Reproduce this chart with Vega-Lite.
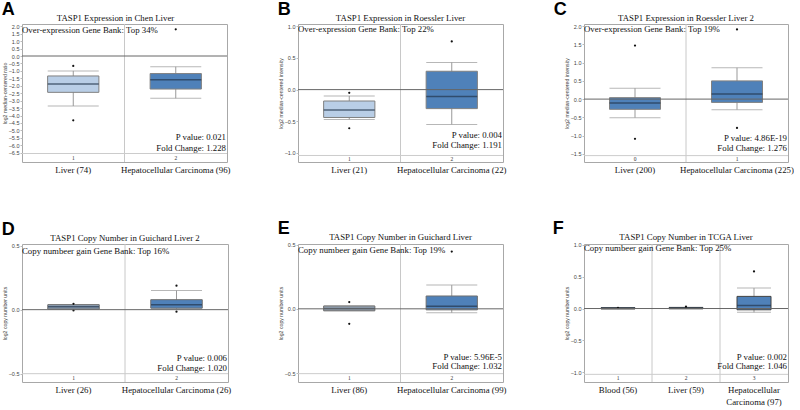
{
"$schema": "https://vega.github.io/schema/vega-lite/v6.json",
"padding": {"left": 1, "top": 1, "right": 0, "bottom": 0},
"resolve": {"scale": {"color": "independent"}},
"datasets": {
"boxes": [
{"panel":"A","pos":1,"num":"1","cat":"Liver (74)","lower":-3.36,"q1":-2.44,"median":-1.88,"q3":-1.34,"upper":-1.0},
{"panel":"A","pos":2,"num":"2","cat":"Hepatocellular Carcinoma (96)","lower":-2.84,"q1":-2.22,"median":-1.59,"q3":-1.18,"upper":-0.72},
{"panel":"B","pos":1,"num":"1","cat":"Liver (21)","lower":-0.47,"q1":-0.44,"median":-0.32,"q3":-0.18,"upper":-0.1},
{"panel":"B","pos":2,"num":"2","cat":"Hepatocellular Carcinoma (22)","lower":-0.55,"q1":-0.3,"median":-0.11,"q3":0.29,"upper":0.43},
{"panel":"C","pos":1,"num":"0","cat":"Liver (200)","lower":-0.51,"q1":-0.28,"median":-0.11,"q3":0.04,"upper":0.3},
{"panel":"C","pos":2,"num":"1","cat":"Hepatocellular Carcinoma (225)","lower":-0.29,"q1":-0.09,"median":0.14,"q3":0.5,"upper":0.86},
{"panel":"D","pos":1,"num":"1","cat":"Liver (26)","lower":0.005,"q1":0.005,"median":0.022,"q3":0.039,"upper":0.039},
{"panel":"D","pos":2,"num":"2","cat":"Hepatocellular Carcinoma (26)","lower":0.006,"q1":0.012,"median":0.039,"q3":0.078,"upper":0.15},
{"panel":"E","pos":1,"num":"1","cat":"Liver (86)","lower":-0.015,"q1":-0.015,"median":0.003,"q3":0.022,"upper":0.022},
{"panel":"E","pos":2,"num":"2","cat":"Hepatocellular Carcinoma (99)","lower":-0.031,"q1":-0.008,"median":0.02,"q3":0.1,"upper":0.185},
{"panel":"F","pos":1,"num":"1","cat":"Blood (56)","lower":-0.01,"q1":-0.004,"median":0.004,"q3":0.012,"upper":0.018},
{"panel":"F","pos":2,"num":"2","cat":"Liver (59)","lower":-0.008,"q1":-0.002,"median":0.006,"q3":0.014,"upper":0.02},
{"panel":"F","pos":3,"num":"3","cat":"Hepatocellular Carcinoma (97)","lower":-0.06,"q1":-0.02,"median":0.047,"q3":0.19,"upper":0.32}
],
"outliers": [
{"panel":"A","cat":"Liver (74)","v":-0.67},
{"panel":"A","cat":"Liver (74)","v":-4.32},
{"panel":"A","cat":"Hepatocellular Carcinoma (96)","v":1.79},
{"panel":"B","cat":"Liver (21)","v":-0.05},
{"panel":"B","cat":"Liver (21)","v":-0.61},
{"panel":"B","cat":"Hepatocellular Carcinoma (22)","v":0.76},
{"panel":"C","cat":"Liver (200)","v":1.47},
{"panel":"C","cat":"Liver (200)","v":-1.09},
{"panel":"C","cat":"Hepatocellular Carcinoma (225)","v":1.91},
{"panel":"C","cat":"Hepatocellular Carcinoma (225)","v":-0.79},
{"panel":"D","cat":"Liver (26)","v":0.046},
{"panel":"D","cat":"Liver (26)","v":-0.006},
{"panel":"D","cat":"Hepatocellular Carcinoma (26)","v":0.187},
{"panel":"D","cat":"Hepatocellular Carcinoma (26)","v":-0.016},
{"panel":"E","cat":"Liver (86)","v":0.053},
{"panel":"E","cat":"Liver (86)","v":-0.117},
{"panel":"E","cat":"Hepatocellular Carcinoma (99)","v":0.446},
{"panel":"F","cat":"Blood (56)","v":0.012},
{"panel":"F","cat":"Liver (59)","v":0.028},
{"panel":"F","cat":"Hepatocellular Carcinoma (97)","v":0.58}
],
"notes": [
{"panel":"A","top":"Over-expression Gene Bank: Top 34%","p":"P value: 0.021","fc":"Fold Change: 1.228"},
{"panel":"B","top":"Over-expression Gene Bank: Top 22%","p":"P value: 0.004","fc":"Fold Change: 1.191"},
{"panel":"C","top":"Over-expression Gene Bank: Top 19%","p":"P value: 4.86E-19","fc":"Fold Change: 1.276"},
{"panel":"D","top":"Copy numbeer gain Gene Bank: Top 16%","p":"P value: 0.006","fc":"Fold Change: 1.020"},
{"panel":"E","top":"Copy numbeer gain Gene Bank: Top 19%","p":"P value: 5.96E-5","fc":"Fold Change: 1.032"},
{"panel":"F","top":"Copy numbeer gain Gene Bank: Top 25%","p":"P value: 0.002","fc":"Fold Change: 1.046"}
]
},
"columns": 3,
"spacing": {"row": 45, "column": 45},
"concat": [
{
"title": {"text": "A", "anchor": "start", "font": "Liberation Sans", "fontSize": 18, "fontWeight": "bold", "offset": -6, "color": "#000"},
"vconcat": [{
"width": 205, "height": 138,
"title": {"text": "TASP1 Expression in Chen Liver", "frame": "group", "dx": -9},
"resolve": {"axis": {"x": "independent", "y": "independent"}},
"layer": [
{"data": {"name": "boxes"}, "transform": [{"filter": "datum.panel == 'A' && datum.pos < 2"}], "mark": {"type": "rule", "color": "#c8c8c8"}, "encoding": {"x": {"field": "cat", "type": "nominal", "bandPosition": 1, "axis": null}}},
{"data": {"name": "notes"}, "transform": [{"filter": "datum.panel == 'A'"}], "mark": {"type": "rule", "color": "#cccccc"}, "encoding": {"y": {"datum": -6.55, "axis": null}}},
{"data": {"name": "boxes"}, "transform": [{"filter": "datum.panel == 'A'"}], "mark": {"type": "rule", "color": "#999"}, "encoding": {"x": {"field": "cat", "type": "nominal", "axis": null}, "y": {"field": "lower", "type": "quantitative", "axis": null}, "y2": {"field": "upper"}}},
{"data": {"name": "boxes"}, "transform": [{"filter": "datum.panel == 'A'"}], "mark": {"type": "tick", "color": "#999", "thickness": 1, "size": 51}, "encoding": {"x": {"field": "cat", "type": "nominal", "axis": null}, "y": {"field": "upper", "type": "quantitative", "axis": null}}},
{"data": {"name": "boxes"}, "transform": [{"filter": "datum.panel == 'A'"}], "mark": {"type": "tick", "color": "#999", "thickness": 1, "size": 51}, "encoding": {"x": {"field": "cat", "type": "nominal", "axis": null}, "y": {"field": "lower", "type": "quantitative", "axis": null}}},
{"data": {"name": "boxes"}, "transform": [{"filter": "datum.panel == 'A'"}], "mark": {"type": "bar", "width": {"band": 0.5}, "stroke": "#808080", "strokeWidth": 1},
 "encoding": {
  "x": {"field": "cat", "type": "nominal", "scale": {"type": "band", "domain": ["Liver (74)", "Hepatocellular Carcinoma (96)"], "paddingInner": 0, "paddingOuter": 0}, "axis": {"orient": "bottom", "title": null}},
  "y": {"field": "q1", "type": "quantitative", "scale": {"domain": [-7.12, 2.15], "nice": false, "zero": false}, "axis": {"orient": "left", "values": [2,1.5,1,0.5,0,-0.5,-1,-1.5,-2,-2.5,-3,-3.5,-4,-4.5,-5,-5.5,-6,-6.5], "labelOverlap": false, "labelFlush": false, "title": "log2 median-centered ratio"}},
  "y2": {"field": "q3"},
  "color": {"field": "cat", "type": "nominal", "scale": {"domain": ["Liver (74)", "Hepatocellular Carcinoma (96)"], "range": ["#b9cee6", "#4f81b9"]}, "legend": null}
 }},
{"data": {"name": "boxes"}, "transform": [{"filter": "datum.panel == 'A'"}], "mark": {"type": "tick", "color": "#24364d", "thickness": 1.5, "size": 51}, "encoding": {"x": {"field": "cat", "type": "nominal", "axis": null}, "y": {"field": "median", "type": "quantitative", "axis": null}}},
{"data": {"name": "outliers"}, "transform": [{"filter": "datum.panel == 'A'"}], "mark": {"type": "point", "filled": true, "color": "#111", "size": 5, "opacity": 1}, "encoding": {"x": {"field": "cat", "type": "nominal", "axis": null}, "y": {"field": "v", "type": "quantitative", "axis": null}}},
{"data": {"name": "notes"}, "transform": [{"filter": "datum.panel == 'A'"}], "mark": {"type": "rule", "color": "#666"}, "encoding": {"y": {"datum": 0, "axis": null}}},
{"data": {"name": "boxes"}, "transform": [{"filter": "datum.panel == 'A'"}], "mark": {"type": "text", "fontSize": 5.5, "color": "#333"}, "encoding": {"x": {"field": "cat", "type": "nominal", "axis": null}, "y": {"datum": -6.86, "axis": null}, "text": {"field": "num"}}},
{"data": {"name": "notes"}, "transform": [{"filter": "datum.panel == 'A'"}], "mark": {"type": "text", "align": "left", "baseline": "middle", "fontSize": 8.8, "dx": 0, "color": "#111"}, "encoding": {"x": {"datum": "Liver (74)", "bandPosition": 0, "axis": null}, "y": {"datum": 1.78, "axis": null}, "text": {"field": "top"}}},
{"data": {"name": "notes"}, "transform": [{"filter": "datum.panel == 'A'"}], "mark": {"type": "text", "align": "right", "baseline": "middle", "fontSize": 8.8, "dx": -1, "color": "#111"}, "encoding": {"x": {"datum": "Hepatocellular Carcinoma (96)", "bandPosition": 1, "axis": null}, "y": {"datum": -5.45, "axis": null}, "text": {"field": "p"}}},
{"data": {"name": "notes"}, "transform": [{"filter": "datum.panel == 'A'"}], "mark": {"type": "text", "align": "right", "baseline": "middle", "fontSize": 8.8, "dx": -1, "color": "#111"}, "encoding": {"x": {"datum": "Hepatocellular Carcinoma (96)", "bandPosition": 1, "axis": null}, "y": {"datum": -6.17, "axis": null}, "text": {"field": "fc"}}}
]
}]
},
{
"title": {"text": "B", "anchor": "start", "font": "Liberation Sans", "fontSize": 18, "fontWeight": "bold", "offset": -6, "color": "#000"},
"vconcat": [{
"width": 205, "height": 138,
"title": {"text": "TASP1 Expression in Roessler Liver", "frame": "group"},
"resolve": {"axis": {"x": "independent", "y": "independent"}},
"layer": [
{"data": {"name": "boxes"}, "transform": [{"filter": "datum.panel == 'B' && datum.pos < 2"}], "mark": {"type": "rule", "color": "#c8c8c8"}, "encoding": {"x": {"field": "cat", "type": "nominal", "bandPosition": 1, "axis": null}}},
{"data": {"name": "notes"}, "transform": [{"filter": "datum.panel == 'B'"}], "mark": {"type": "rule", "color": "#cccccc"}, "encoding": {"y": {"datum": -1.04, "axis": null}}},
{"data": {"name": "boxes"}, "transform": [{"filter": "datum.panel == 'B'"}], "mark": {"type": "rule", "color": "#999"}, "encoding": {"x": {"field": "cat", "type": "nominal", "axis": null}, "y": {"field": "lower", "type": "quantitative", "axis": null}, "y2": {"field": "upper"}}},
{"data": {"name": "boxes"}, "transform": [{"filter": "datum.panel == 'B'"}], "mark": {"type": "tick", "color": "#999", "thickness": 1, "size": 51}, "encoding": {"x": {"field": "cat", "type": "nominal", "axis": null}, "y": {"field": "upper", "type": "quantitative", "axis": null}}},
{"data": {"name": "boxes"}, "transform": [{"filter": "datum.panel == 'B'"}], "mark": {"type": "tick", "color": "#999", "thickness": 1, "size": 51}, "encoding": {"x": {"field": "cat", "type": "nominal", "axis": null}, "y": {"field": "lower", "type": "quantitative", "axis": null}}},
{"data": {"name": "boxes"}, "transform": [{"filter": "datum.panel == 'B'"}], "mark": {"type": "bar", "width": {"band": 0.5}, "stroke": "#808080", "strokeWidth": 1},
 "encoding": {
  "x": {"field": "cat", "type": "nominal", "scale": {"type": "band", "domain": ["Liver (21)", "Hepatocellular Carcinoma (22)"], "paddingInner": 0, "paddingOuter": 0}, "axis": {"orient": "bottom", "title": null}},
  "y": {"field": "q1", "type": "quantitative", "scale": {"domain": [-1.143, 1.036], "nice": false, "zero": false}, "axis": {"orient": "left", "values": [1,0.5,0,-0.5,-1], "labelOverlap": false, "labelFlush": false, "title": "log2 median-centered intensity"}},
  "y2": {"field": "q3"},
  "color": {"field": "cat", "type": "nominal", "scale": {"domain": ["Liver (21)", "Hepatocellular Carcinoma (22)"], "range": ["#b9cee6", "#4f81b9"]}, "legend": null}
 }},
{"data": {"name": "boxes"}, "transform": [{"filter": "datum.panel == 'B'"}], "mark": {"type": "tick", "color": "#24364d", "thickness": 1.5, "size": 51}, "encoding": {"x": {"field": "cat", "type": "nominal", "axis": null}, "y": {"field": "median", "type": "quantitative", "axis": null}}},
{"data": {"name": "outliers"}, "transform": [{"filter": "datum.panel == 'B'"}], "mark": {"type": "point", "filled": true, "color": "#111", "size": 5, "opacity": 1}, "encoding": {"x": {"field": "cat", "type": "nominal", "axis": null}, "y": {"field": "v", "type": "quantitative", "axis": null}}},
{"data": {"name": "notes"}, "transform": [{"filter": "datum.panel == 'B'"}], "mark": {"type": "rule", "color": "#666"}, "encoding": {"y": {"datum": 0, "axis": null}}},
{"data": {"name": "boxes"}, "transform": [{"filter": "datum.panel == 'B'"}], "mark": {"type": "text", "fontSize": 5.5, "color": "#333"}, "encoding": {"x": {"field": "cat", "type": "nominal", "axis": null}, "y": {"datum": -1.095, "axis": null}, "text": {"field": "num"}}},
{"data": {"name": "notes"}, "transform": [{"filter": "datum.panel == 'B'"}], "mark": {"type": "text", "align": "left", "baseline": "middle", "fontSize": 8.8, "dx": 0, "color": "#111"}, "encoding": {"x": {"datum": "Liver (21)", "bandPosition": 0, "axis": null}, "y": {"datum": 0.958, "axis": null}, "text": {"field": "top"}}},
{"data": {"name": "notes"}, "transform": [{"filter": "datum.panel == 'B'"}], "mark": {"type": "text", "align": "right", "baseline": "middle", "fontSize": 8.8, "dx": -1, "color": "#111"}, "encoding": {"x": {"datum": "Hepatocellular Carcinoma (22)", "bandPosition": 1, "axis": null}, "y": {"datum": -0.71, "axis": null}, "text": {"field": "p"}}},
{"data": {"name": "notes"}, "transform": [{"filter": "datum.panel == 'B'"}], "mark": {"type": "text", "align": "right", "baseline": "middle", "fontSize": 8.8, "dx": -1, "color": "#111"}, "encoding": {"x": {"datum": "Hepatocellular Carcinoma (22)", "bandPosition": 1, "axis": null}, "y": {"datum": -0.87, "axis": null}, "text": {"field": "fc"}}}
]
}]
},
{
"title": {"text": "C", "anchor": "start", "font": "Liberation Sans", "fontSize": 18, "fontWeight": "bold", "offset": -6, "color": "#000", "dx": -10},
"vconcat": [{
"width": 204, "height": 138,
"title": {"text": "TASP1 Expression in  Roessler Liver 2", "frame": "group"},
"resolve": {"axis": {"x": "independent", "y": "independent"}},
"layer": [
{"data": {"name": "boxes"}, "transform": [{"filter": "datum.panel == 'C' && datum.pos < 2"}], "mark": {"type": "rule", "color": "#c8c8c8"}, "encoding": {"x": {"field": "cat", "type": "nominal", "bandPosition": 1, "axis": null}}},
{"data": {"name": "notes"}, "transform": [{"filter": "datum.panel == 'C'"}], "mark": {"type": "rule", "color": "#cccccc"}, "encoding": {"y": {"datum": -1.55, "axis": null}}},
{"data": {"name": "boxes"}, "transform": [{"filter": "datum.panel == 'C'"}], "mark": {"type": "rule", "color": "#999"}, "encoding": {"x": {"field": "cat", "type": "nominal", "axis": null}, "y": {"field": "lower", "type": "quantitative", "axis": null}, "y2": {"field": "upper"}}},
{"data": {"name": "boxes"}, "transform": [{"filter": "datum.panel == 'C'"}], "mark": {"type": "tick", "color": "#999", "thickness": 1, "size": 51}, "encoding": {"x": {"field": "cat", "type": "nominal", "axis": null}, "y": {"field": "upper", "type": "quantitative", "axis": null}}},
{"data": {"name": "boxes"}, "transform": [{"filter": "datum.panel == 'C'"}], "mark": {"type": "tick", "color": "#999", "thickness": 1, "size": 51}, "encoding": {"x": {"field": "cat", "type": "nominal", "axis": null}, "y": {"field": "lower", "type": "quantitative", "axis": null}}},
{"data": {"name": "boxes"}, "transform": [{"filter": "datum.panel == 'C'"}], "mark": {"type": "bar", "width": {"band": 0.5}, "stroke": "#808080", "strokeWidth": 1},
 "encoding": {
  "x": {"field": "cat", "type": "nominal", "scale": {"type": "band", "domain": ["Liver (200)", "Hepatocellular Carcinoma (225)"], "paddingInner": 0, "paddingOuter": 0}, "axis": {"orient": "bottom", "title": null}},
  "y": {"field": "q1", "type": "quantitative", "scale": {"domain": [-1.725, 2.06], "nice": false, "zero": false}, "axis": {"orient": "left", "values": [2,1.5,1,0.5,0,-0.5,-1,-1.5], "labelOverlap": false, "labelFlush": false, "title": "log2 median-centered intensity"}},
  "y2": {"field": "q3"},
  "color": {"field": "cat", "type": "nominal", "scale": {"domain": ["Liver (200)", "Hepatocellular Carcinoma (225)"], "range": ["#4f81b9", "#4f81b9"]}, "legend": null}
 }},
{"data": {"name": "boxes"}, "transform": [{"filter": "datum.panel == 'C'"}], "mark": {"type": "tick", "color": "#24364d", "thickness": 1.5, "size": 51}, "encoding": {"x": {"field": "cat", "type": "nominal", "axis": null}, "y": {"field": "median", "type": "quantitative", "axis": null}}},
{"data": {"name": "outliers"}, "transform": [{"filter": "datum.panel == 'C'"}], "mark": {"type": "point", "filled": true, "color": "#111", "size": 5, "opacity": 1}, "encoding": {"x": {"field": "cat", "type": "nominal", "axis": null}, "y": {"field": "v", "type": "quantitative", "axis": null}}},
{"data": {"name": "notes"}, "transform": [{"filter": "datum.panel == 'C'"}], "mark": {"type": "rule", "color": "#666"}, "encoding": {"y": {"datum": 0, "axis": null}}},
{"data": {"name": "boxes"}, "transform": [{"filter": "datum.panel == 'C'"}], "mark": {"type": "text", "fontSize": 5.5, "color": "#333"}, "encoding": {"x": {"field": "cat", "type": "nominal", "axis": null}, "y": {"datum": -1.64, "axis": null}, "text": {"field": "num"}}},
{"data": {"name": "notes"}, "transform": [{"filter": "datum.panel == 'C'"}], "mark": {"type": "text", "align": "left", "baseline": "middle", "fontSize": 8.8, "dx": 0, "color": "#111"}, "encoding": {"x": {"datum": "Liver (200)", "bandPosition": 0, "axis": null}, "y": {"datum": 1.91, "axis": null}, "text": {"field": "top"}}},
{"data": {"name": "notes"}, "transform": [{"filter": "datum.panel == 'C'"}], "mark": {"type": "text", "align": "right", "baseline": "middle", "fontSize": 8.8, "dx": -1, "color": "#111"}, "encoding": {"x": {"datum": "Hepatocellular Carcinoma (225)", "bandPosition": 1, "axis": null}, "y": {"datum": -1.07, "axis": null}, "text": {"field": "p"}}},
{"data": {"name": "notes"}, "transform": [{"filter": "datum.panel == 'C'"}], "mark": {"type": "text", "align": "right", "baseline": "middle", "fontSize": 8.8, "dx": -1, "color": "#111"}, "encoding": {"x": {"datum": "Hepatocellular Carcinoma (225)", "bandPosition": 1, "axis": null}, "y": {"datum": -1.335, "axis": null}, "text": {"field": "fc"}}}
]
}]
},
{
"title": {"text": "D", "anchor": "start", "font": "Liberation Sans", "fontSize": 18, "fontWeight": "bold", "offset": -6, "color": "#000"},
"vconcat": [{
"width": 206, "height": 138,
"title": {"text": "TASP1 Copy Number in  Guichard Liver 2", "frame": "group"},
"resolve": {"axis": {"x": "independent", "y": "independent"}},
"layer": [
{"data": {"name": "boxes"}, "transform": [{"filter": "datum.panel == 'D' && datum.pos < 2"}], "mark": {"type": "rule", "color": "#c8c8c8"}, "encoding": {"x": {"field": "cat", "type": "nominal", "bandPosition": 1, "axis": null}}},
{"data": {"name": "notes"}, "transform": [{"filter": "datum.panel == 'D'"}], "mark": {"type": "rule", "color": "#cccccc"}, "encoding": {"y": {"datum": -0.5, "axis": null}}},
{"data": {"name": "boxes"}, "transform": [{"filter": "datum.panel == 'D'"}], "mark": {"type": "rule", "color": "#999"}, "encoding": {"x": {"field": "cat", "type": "nominal", "axis": null}, "y": {"field": "lower", "type": "quantitative", "axis": null}, "y2": {"field": "upper"}}},
{"data": {"name": "boxes"}, "transform": [{"filter": "datum.panel == 'D'"}], "mark": {"type": "tick", "color": "#999", "thickness": 1, "size": 51}, "encoding": {"x": {"field": "cat", "type": "nominal", "axis": null}, "y": {"field": "upper", "type": "quantitative", "axis": null}}},
{"data": {"name": "boxes"}, "transform": [{"filter": "datum.panel == 'D'"}], "mark": {"type": "tick", "color": "#999", "thickness": 1, "size": 51}, "encoding": {"x": {"field": "cat", "type": "nominal", "axis": null}, "y": {"field": "lower", "type": "quantitative", "axis": null}}},
{"data": {"name": "boxes"}, "transform": [{"filter": "datum.panel == 'D'"}], "mark": {"type": "bar", "width": {"band": 0.5}, "stroke": "#6f6f6f", "strokeWidth": 1},
 "encoding": {
  "x": {"field": "cat", "type": "nominal", "scale": {"type": "band", "domain": ["Liver (26)", "Hepatocellular Carcinoma (26)"], "paddingInner": 0, "paddingOuter": 0}, "axis": {"orient": "bottom", "title": null}},
  "y": {"field": "q1", "type": "quantitative", "scale": {"domain": [-0.565, 0.513], "nice": false, "zero": false}, "axis": {"orient": "left", "values": [0.5,0,-0.5], "labelOverlap": false, "labelFlush": false, "title": "log2 copy number units"}},
  "y2": {"field": "q3"},
  "color": {"field": "cat", "type": "nominal", "scale": {"domain": ["Liver (26)", "Hepatocellular Carcinoma (26)"], "range": ["#8fa2b8", "#4f81b9"]}, "legend": null}
 }},
{"data": {"name": "boxes"}, "transform": [{"filter": "datum.panel == 'D'"}], "mark": {"type": "tick", "color": "#24364d", "thickness": 1.5, "size": 51}, "encoding": {"x": {"field": "cat", "type": "nominal", "axis": null}, "y": {"field": "median", "type": "quantitative", "axis": null}}},
{"data": {"name": "outliers"}, "transform": [{"filter": "datum.panel == 'D'"}], "mark": {"type": "point", "filled": true, "color": "#111", "size": 5, "opacity": 1}, "encoding": {"x": {"field": "cat", "type": "nominal", "axis": null}, "y": {"field": "v", "type": "quantitative", "axis": null}}},
{"data": {"name": "notes"}, "transform": [{"filter": "datum.panel == 'D'"}], "mark": {"type": "rule", "color": "#666"}, "encoding": {"y": {"datum": 0, "axis": null}}},
{"data": {"name": "boxes"}, "transform": [{"filter": "datum.panel == 'D'"}], "mark": {"type": "text", "fontSize": 5.5, "color": "#333"}, "encoding": {"x": {"field": "cat", "type": "nominal", "axis": null}, "y": {"datum": -0.535, "axis": null}, "text": {"field": "num"}}},
{"data": {"name": "notes"}, "transform": [{"filter": "datum.panel == 'D'"}], "mark": {"type": "text", "align": "left", "baseline": "middle", "fontSize": 8.8, "dx": 0, "color": "#111"}, "encoding": {"x": {"datum": "Liver (26)", "bandPosition": 0, "axis": null}, "y": {"datum": 0.456, "axis": null}, "text": {"field": "top"}}},
{"data": {"name": "notes"}, "transform": [{"filter": "datum.panel == 'D'"}], "mark": {"type": "text", "align": "right", "baseline": "middle", "fontSize": 8.8, "dx": -1, "color": "#111"}, "encoding": {"x": {"datum": "Hepatocellular Carcinoma (26)", "bandPosition": 1, "axis": null}, "y": {"datum": -0.378, "axis": null}, "text": {"field": "p"}}},
{"data": {"name": "notes"}, "transform": [{"filter": "datum.panel == 'D'"}], "mark": {"type": "text", "align": "right", "baseline": "middle", "fontSize": 8.8, "dx": -1, "color": "#111"}, "encoding": {"x": {"datum": "Hepatocellular Carcinoma (26)", "bandPosition": 1, "axis": null}, "y": {"datum": -0.453, "axis": null}, "text": {"field": "fc"}}}
]
}]
},
{
"title": {"text": "E", "anchor": "start", "font": "Liberation Sans", "fontSize": 18, "fontWeight": "bold", "offset": -6, "color": "#000"},
"vconcat": [{
"width": 205, "height": 138,
"title": {"text": "TASP1 Copy Number in  Guichard Liver", "frame": "group"},
"resolve": {"axis": {"x": "independent", "y": "independent"}},
"layer": [
{"data": {"name": "boxes"}, "transform": [{"filter": "datum.panel == 'E' && datum.pos < 2"}], "mark": {"type": "rule", "color": "#c8c8c8"}, "encoding": {"x": {"field": "cat", "type": "nominal", "bandPosition": 1, "axis": null}}},
{"data": {"name": "notes"}, "transform": [{"filter": "datum.panel == 'E'"}], "mark": {"type": "rule", "color": "#cccccc"}, "encoding": {"y": {"datum": -0.505, "axis": null}}},
{"data": {"name": "boxes"}, "transform": [{"filter": "datum.panel == 'E'"}], "mark": {"type": "rule", "color": "#999"}, "encoding": {"x": {"field": "cat", "type": "nominal", "axis": null}, "y": {"field": "lower", "type": "quantitative", "axis": null}, "y2": {"field": "upper"}}},
{"data": {"name": "boxes"}, "transform": [{"filter": "datum.panel == 'E'"}], "mark": {"type": "tick", "color": "#999", "thickness": 1, "size": 51}, "encoding": {"x": {"field": "cat", "type": "nominal", "axis": null}, "y": {"field": "upper", "type": "quantitative", "axis": null}}},
{"data": {"name": "boxes"}, "transform": [{"filter": "datum.panel == 'E'"}], "mark": {"type": "tick", "color": "#999", "thickness": 1, "size": 51}, "encoding": {"x": {"field": "cat", "type": "nominal", "axis": null}, "y": {"field": "lower", "type": "quantitative", "axis": null}}},
{"data": {"name": "boxes"}, "transform": [{"filter": "datum.panel == 'E'"}], "mark": {"type": "bar", "width": {"band": 0.5}, "stroke": "#6f6f6f", "strokeWidth": 1},
 "encoding": {
  "x": {"field": "cat", "type": "nominal", "scale": {"type": "band", "domain": ["Liver (86)", "Hepatocellular Carcinoma (99)"], "paddingInner": 0, "paddingOuter": 0}, "axis": {"orient": "bottom", "title": null}},
  "y": {"field": "q1", "type": "quantitative", "scale": {"domain": [-0.57, 0.505], "nice": false, "zero": false}, "axis": {"orient": "left", "values": [0.5,0,-0.5], "labelOverlap": false, "labelFlush": false, "title": "log2 copy number units"}},
  "y2": {"field": "q3"},
  "color": {"field": "cat", "type": "nominal", "scale": {"domain": ["Liver (86)", "Hepatocellular Carcinoma (99)"], "range": ["#9fadbb", "#4f81b9"]}, "legend": null}
 }},
{"data": {"name": "boxes"}, "transform": [{"filter": "datum.panel == 'E'"}], "mark": {"type": "tick", "color": "#24364d", "thickness": 1.5, "size": 51}, "encoding": {"x": {"field": "cat", "type": "nominal", "axis": null}, "y": {"field": "median", "type": "quantitative", "axis": null}}},
{"data": {"name": "outliers"}, "transform": [{"filter": "datum.panel == 'E'"}], "mark": {"type": "point", "filled": true, "color": "#111", "size": 5, "opacity": 1}, "encoding": {"x": {"field": "cat", "type": "nominal", "axis": null}, "y": {"field": "v", "type": "quantitative", "axis": null}}},
{"data": {"name": "notes"}, "transform": [{"filter": "datum.panel == 'E'"}], "mark": {"type": "rule", "color": "#666"}, "encoding": {"y": {"datum": 0, "axis": null}}},
{"data": {"name": "boxes"}, "transform": [{"filter": "datum.panel == 'E'"}], "mark": {"type": "text", "fontSize": 5.5, "color": "#333"}, "encoding": {"x": {"field": "cat", "type": "nominal", "axis": null}, "y": {"datum": -0.54, "axis": null}, "text": {"field": "num"}}},
{"data": {"name": "notes"}, "transform": [{"filter": "datum.panel == 'E'"}], "mark": {"type": "text", "align": "left", "baseline": "middle", "fontSize": 8.8, "dx": 0, "color": "#111"}, "encoding": {"x": {"datum": "Liver (86)", "bandPosition": 0, "axis": null}, "y": {"datum": 0.461, "axis": null}, "text": {"field": "top"}}},
{"data": {"name": "notes"}, "transform": [{"filter": "datum.panel == 'E'"}], "mark": {"type": "text", "align": "right", "baseline": "middle", "fontSize": 8.8, "dx": -1, "color": "#111"}, "encoding": {"x": {"datum": "Hepatocellular Carcinoma (99)", "bandPosition": 1, "axis": null}, "y": {"datum": -0.378, "axis": null}, "text": {"field": "p"}}},
{"data": {"name": "notes"}, "transform": [{"filter": "datum.panel == 'E'"}], "mark": {"type": "text", "align": "right", "baseline": "middle", "fontSize": 8.8, "dx": -1, "color": "#111"}, "encoding": {"x": {"datum": "Hepatocellular Carcinoma (99)", "bandPosition": 1, "axis": null}, "y": {"datum": -0.448, "axis": null}, "text": {"field": "fc"}}}
]
}]
},
{
"title": {"text": "F", "anchor": "start", "font": "Liberation Sans", "fontSize": 18, "fontWeight": "bold", "offset": -6, "color": "#000", "dx": -11},
"vconcat": [{
"width": 204, "height": 138,
"title": {"text": "TASP1 Copy Number in  TCGA Liver", "frame": "group"},
"resolve": {"axis": {"x": "independent", "y": "independent"}},
"layer": [
{"data": {"name": "boxes"}, "transform": [{"filter": "datum.panel == 'F' && datum.pos < 3"}], "mark": {"type": "rule", "color": "#c8c8c8"}, "encoding": {"x": {"field": "cat", "type": "nominal", "bandPosition": 1, "axis": null}}},
{"data": {"name": "notes"}, "transform": [{"filter": "datum.panel == 'F'"}], "mark": {"type": "rule", "color": "#cccccc"}, "encoding": {"y": {"datum": -1.03, "axis": null}}},
{"data": {"name": "boxes"}, "transform": [{"filter": "datum.panel == 'F'"}], "mark": {"type": "rule", "color": "#999"}, "encoding": {"x": {"field": "cat", "type": "nominal", "axis": null}, "y": {"field": "lower", "type": "quantitative", "axis": null}, "y2": {"field": "upper"}}},
{"data": {"name": "boxes"}, "transform": [{"filter": "datum.panel == 'F'"}], "mark": {"type": "tick", "color": "#999", "thickness": 1, "size": 34}, "encoding": {"x": {"field": "cat", "type": "nominal", "axis": null}, "y": {"field": "upper", "type": "quantitative", "axis": null}}},
{"data": {"name": "boxes"}, "transform": [{"filter": "datum.panel == 'F'"}], "mark": {"type": "tick", "color": "#999", "thickness": 1, "size": 34}, "encoding": {"x": {"field": "cat", "type": "nominal", "axis": null}, "y": {"field": "lower", "type": "quantitative", "axis": null}}},
{"data": {"name": "boxes"}, "transform": [{"filter": "datum.panel == 'F'"}], "mark": {"type": "bar", "width": {"band": 0.5}, "stroke": "#404040", "strokeWidth": 1},
 "encoding": {
  "x": {"field": "cat", "type": "nominal", "scale": {"type": "band", "domain": ["Blood (56)", "Liver (59)", "Hepatocellular Carcinoma (97)"], "paddingInner": 0, "paddingOuter": 0}, "axis": {"orient": "bottom", "title": null, "labelLineHeight": 12, "labelExpr": "datum.value == 'Hepatocellular Carcinoma (97)' ? ['Hepatocellular', 'Carcinoma (97)'] : datum.value"}},
  "y": {"field": "q1", "type": "quantitative", "scale": {"domain": [-1.15, 1.01], "nice": false, "zero": false}, "axis": {"orient": "left", "values": [1,0.5,0,-0.5,-1], "labelOverlap": false, "labelFlush": false, "title": "log2 copy number units"}},
  "y2": {"field": "q3"},
  "color": {"field": "cat", "type": "nominal", "scale": {"domain": ["Blood (56)", "Liver (59)", "Hepatocellular Carcinoma (97)"], "range": ["#4f81b9", "#4f81b9", "#4f81b9"]}, "legend": null}
 }},
{"data": {"name": "boxes"}, "transform": [{"filter": "datum.panel == 'F'"}], "mark": {"type": "tick", "color": "#24364d", "thickness": 1.5, "size": 34}, "encoding": {"x": {"field": "cat", "type": "nominal", "axis": null}, "y": {"field": "median", "type": "quantitative", "axis": null}}},
{"data": {"name": "outliers"}, "transform": [{"filter": "datum.panel == 'F'"}], "mark": {"type": "point", "filled": true, "color": "#111", "size": 5, "opacity": 1}, "encoding": {"x": {"field": "cat", "type": "nominal", "axis": null}, "y": {"field": "v", "type": "quantitative", "axis": null}}},
{"data": {"name": "notes"}, "transform": [{"filter": "datum.panel == 'F'"}], "mark": {"type": "rule", "color": "#666"}, "encoding": {"y": {"datum": 0, "axis": null}}},
{"data": {"name": "boxes"}, "transform": [{"filter": "datum.panel == 'F'"}], "mark": {"type": "text", "fontSize": 5.5, "color": "#333"}, "encoding": {"x": {"field": "cat", "type": "nominal", "axis": null}, "y": {"datum": -1.09, "axis": null}, "text": {"field": "num"}}},
{"data": {"name": "notes"}, "transform": [{"filter": "datum.panel == 'F'"}], "mark": {"type": "text", "align": "left", "baseline": "middle", "fontSize": 8.8, "dx": 0, "color": "#111"}, "encoding": {"x": {"datum": "Blood (56)", "bandPosition": 0, "axis": null}, "y": {"datum": 0.94, "axis": null}, "text": {"field": "top"}}},
{"data": {"name": "notes"}, "transform": [{"filter": "datum.panel == 'F'"}], "mark": {"type": "text", "align": "right", "baseline": "middle", "fontSize": 8.8, "dx": -1, "color": "#111"}, "encoding": {"x": {"datum": "Hepatocellular Carcinoma (97)", "bandPosition": 1, "axis": null}, "y": {"datum": -0.756, "axis": null}, "text": {"field": "p"}}},
{"data": {"name": "notes"}, "transform": [{"filter": "datum.panel == 'F'"}], "mark": {"type": "text", "align": "right", "baseline": "middle", "fontSize": 8.8, "dx": -1, "color": "#111"}, "encoding": {"x": {"datum": "Hepatocellular Carcinoma (97)", "bandPosition": 1, "axis": null}, "y": {"datum": -0.897, "axis": null}, "text": {"field": "fc"}}}
]
}]
}
],
"config": {
"font": "Liberation Serif",
"view": {"stroke": "#a8a8a8", "strokeWidth": 1},
"title": {"font": "Liberation Serif", "fontSize": 8.8, "fontWeight": "normal", "color": "#111", "offset": 1},
"text": {"font": "Liberation Serif"},
"axisY": {"format": ".1f", "labelFont": "Liberation Sans", "labelFontSize": 5.5, "labelColor": "#444", "labelPadding": 1, "labelOverlap": false, "labelFlush": false, "titleFont": "Liberation Sans", "titleFontSize": 5.2, "titleFontWeight": "normal", "titleColor": "#444", "titlePadding": 1, "tickSize": 2, "tickColor": "#bbb", "domain": false, "grid": false},
"axisX": {"labelFont": "Liberation Serif", "labelFontSize": 8.8, "labelColor": "#111", "labelAngle": 0, "labelPadding": 3, "ticks": false, "domain": false, "grid": false}
}
}
